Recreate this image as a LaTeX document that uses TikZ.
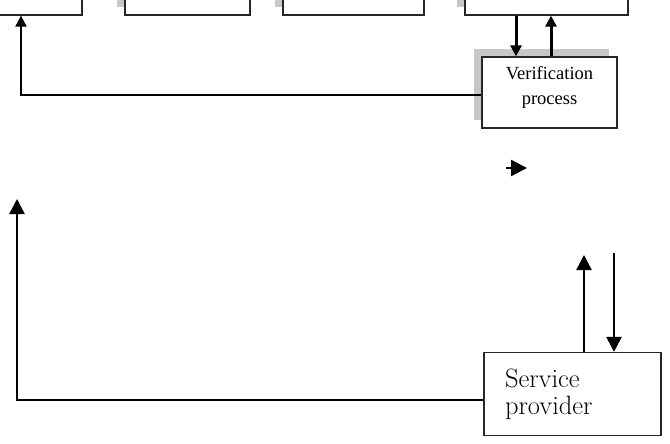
\documentclass[tikz,border=0pt]{standalone}
\usepackage{fontspec}
\newfontfamily\timesfont{Liberation Serif}
\usetikzlibrary{arrows.meta,shadows}

\begin{document}
\begin{tikzpicture}[
    x=1pt, y=-1pt,
    box/.style={rectangle, draw=black!85, line width=1.3pt, fill=white, inner sep=0pt},
    boxshadow/.style={drop shadow={shadow xshift=-8pt, shadow yshift=8pt, fill=black!22, opacity=1}},
    arrow/.style={-{Triangle[width=15pt, length=15pt]}, line width=2.5pt},
    thinarrow/.style={-{Triangle[width=11pt, length=11pt]}, line width=3pt}
]
\useasboundingbox (0,0) rectangle (670,444);

% Top blocks
\node[box, boxshadow, minimum width=94pt, minimum height=27pt] (blockA) at (35,1.5) {};
\node[box, boxshadow, minimum width=125pt, minimum height=27pt] (blockB) at (187.5,1.5) {};
\node[box, boxshadow, minimum width=141pt, minimum height=27pt] (blockC) at (353.5,1.5) {};
\node[box, boxshadow, minimum width=163pt, minimum height=27pt] (blockD) at (546.5,1.5) {};

% Verification process
\node[box, boxshadow, minimum width=135pt, minimum height=71pt,
      label={[font=\timesfont\fontsize{18.5}{25}\selectfont, align=center, yshift=5pt]center:Verification\\process}]
      (verify) at (549.5,92.5) {};

% Service provider
\node[box, minimum width=177pt, minimum height=83pt, text width=135pt, inner xsep=21pt,
      align=left, font=\fontsize{26.5}{27}\selectfont] (provider) at (572.5,394) {Service\\provider};

% Free ends
\coordinate (strayTail) at (506,168);
\coordinate (strayTip) at (527,168);
\coordinate (upEnd) at (584,255);
\coordinate (downStart) at (614,253);
\coordinate (leftEnd) at (17,199);

% Arrows
\draw[thinarrow] ([xshift=-33.5pt]verify.north |- blockD.south) -- ([xshift=-33.5pt]verify.north);
\draw[thinarrow] ([xshift=1.5pt]verify.north) -- ([xshift=1.5pt]verify.north |- blockD.south);
\draw[thinarrow, line width=2pt] ([yshift=-2.5pt]verify.west) -| ([xshift=-14pt]blockA.south);
\draw[-{Triangle[width=16pt, length=16pt]}, line width=2.5pt] (strayTail) -- (strayTip);
\draw[arrow] ([xshift=11.5pt]provider.north) -- (upEnd);
\draw[arrow] (downStart) -- ([xshift=41.5pt]provider.north);
\draw[arrow] ([yshift=-6pt]provider.west) -| (leftEnd);

\end{tikzpicture}
\end{document}
